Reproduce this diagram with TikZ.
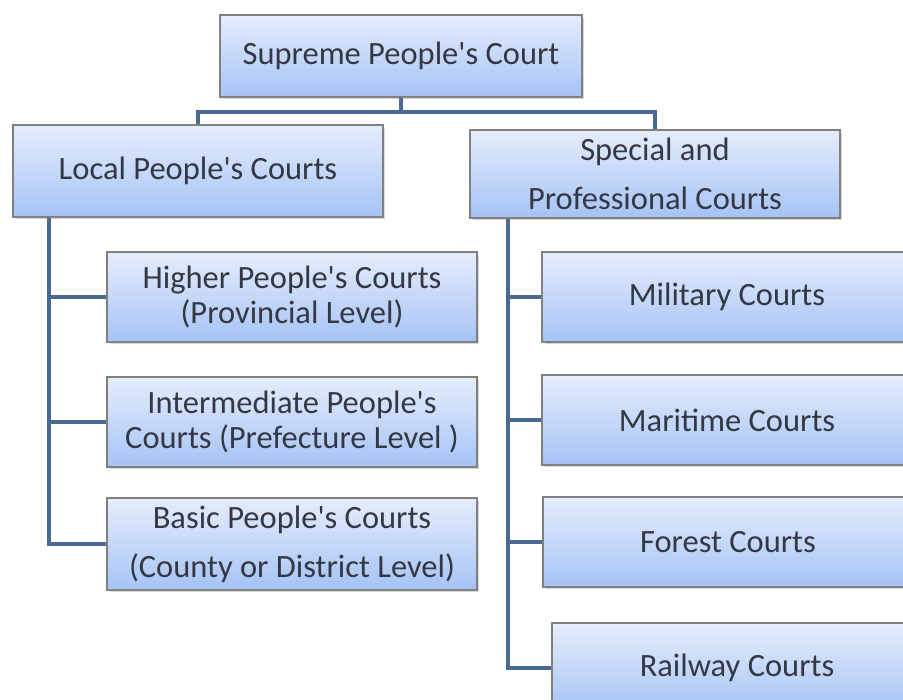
\documentclass[tikz,border=0pt]{standalone}
\usepackage{fontspec}
\setmainfont{Carlito}[Ligatures=TeXOff]
\usepackage{tikz}
\usetikzlibrary{shadows}
\definecolor{courttop}{RGB}{230,237,252}
\definecolor{courtbot}{RGB}{165,195,245}
\definecolor{courtedge}{RGB}{128,128,128}
\definecolor{courtline}{RGB}{74,106,146}
\definecolor{courttext}{RGB}{52,56,68}

\tikzset{
  court/.style={rectangle, draw=courtedge, line width=0.03cm,
    top color=courttop, bottom color=courtbot,
    drop shadow={shadow xshift=0.05cm, shadow yshift=-0.05cm, opacity=0.3},
    text=courttext, align=center, inner sep=0pt,
    font=\fontsize{18.5}{20}\selectfont},
  link/.style={draw=courtline, line width=0.08cm}
}

\begin{document}
\begin{tikzpicture}[x=0.02cm, y=-0.02cm]
    \useasboundingbox (0,0) rectangle (903,700);
    \clip (0,0) rectangle (903,700);
    \fill[white] (0,0) rectangle (903,700);

    % top and the two groups
    \node[court, minimum width=7.24cm, minimum height=1.64cm] (sup) at (401,56) {Supreme People's Court};
    \node[court, minimum width=7.4cm, minimum height=1.84cm] (local) at (198,171) {Local People's Courts};
    \node[court, minimum width=7.4cm, minimum height=1.76cm] (special) at (655,174) {Special and\\[8pt] Professional Courts};

    % local courts
    \node[court, minimum width=7.4cm, minimum height=1.8cm] (higher) at (292,297) {Higher People's Courts\\(Provincial Level)};
    \node[court, minimum width=7.4cm, minimum height=1.8cm] (inter) at (292,422) {Intermediate People's\\Courts (Prefecture Level )};
    \node[court, minimum width=7.4cm, minimum height=1.84cm] (basic) at (292,544) {Basic People's Courts\\[8pt] (County or District Level)};

    % special courts
    \node[court, minimum width=7.4cm, minimum height=1.8cm] (military) at (727,297) {Military Courts};
    \node[court, minimum width=7.4cm, minimum height=1.8cm] (maritime) at (727,420) {Maritime Courts};
    \node[court, minimum width=7.4cm, minimum height=1.8cm] (forest) at (728,542) {Forest Courts};
    \node[court, minimum width=7.4cm, minimum height=1.8cm] (railway) at (737,668) {Railway Courts};

    % connectors
    \coordinate (hub) at (sup.south |- 0,112);
    \draw[link] (sup.south) -- (hub) -| (local.north);
    \draw[link] (hub) -| (special.north);

    \coordinate (lroot) at ([xshift=0.74cm]local.south west);
    \draw[link] (lroot) |- (basic.west);
    \foreach \n in {higher, inter}
        \draw[link] (lroot |- \n.west) -- (\n.west);

    \coordinate (sroot) at ([xshift=0.78cm]special.south west);
    \draw[link] (sroot) |- (railway.west);
    \foreach \n in {military, maritime, forest}
        \draw[link] (sroot |- \n.west) -- (\n.west);
\end{tikzpicture}
\end{document}
